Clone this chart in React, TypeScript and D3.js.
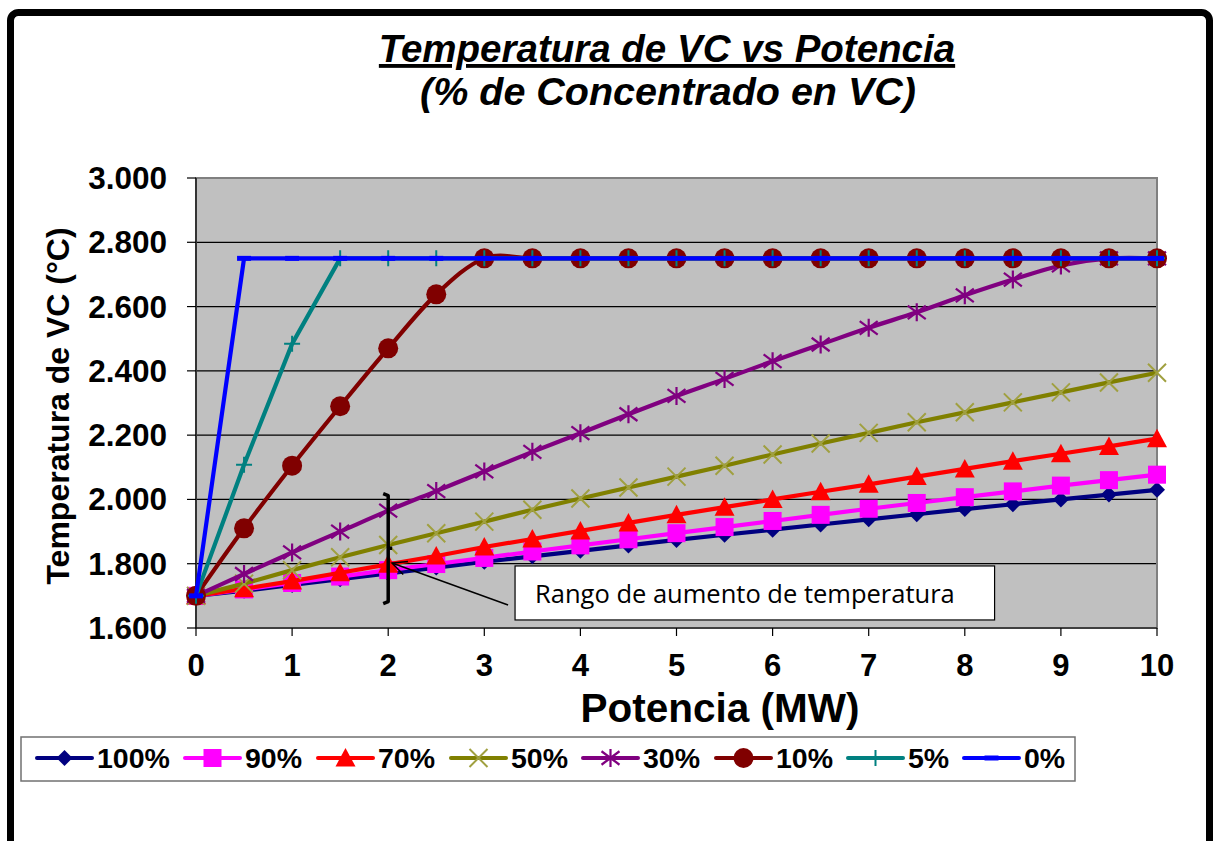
import React from "react";
import * as d3 from "d3";

const potencia = [0, 0.5, 1, 1.5, 2, 2.5, 3, 3.5, 4, 4.5, 5, 5.5, 6, 6.5, 7, 7.5, 8, 8.5, 9, 9.5, 10];
const s100 = [1700, 1716, 1734, 1752, 1770, 1788, 1806, 1823, 1840, 1857, 1874, 1890, 1906, 1922, 1938, 1954, 1970, 1985, 2000, 2015, 2030];
const s90 = [1700, 1720, 1740, 1760, 1780, 1799, 1818, 1838, 1857, 1876, 1895, 1914, 1933, 1952, 1971, 1989, 2007, 2025, 2043, 2060, 2077];
const s70 = [1700, 1722, 1746, 1772, 1798, 1824, 1852, 1877, 1902, 1927, 1952, 1976, 2000, 2024, 2047, 2071, 2095, 2119, 2142, 2165, 2189];
const s50 = [1700, 1738, 1780, 1820, 1858, 1895, 1931, 1968, 2003, 2037, 2071, 2105, 2140, 2174, 2207, 2240, 2271, 2302, 2333, 2364, 2394];
const s30 = [1700, 1768, 1835, 1900, 1965, 2026, 2087, 2148, 2206, 2265, 2322, 2375, 2430, 2482, 2534, 2582, 2635, 2684, 2728, 2750, 2750];
const s10 = [1700, 1910, 2105, 2290, 2470, 2638, 2750, 2750, 2750, 2750, 2750, 2750, 2750, 2750, 2750, 2750, 2750, 2750, 2750, 2750, 2750];
const s5 = [1700, 2108, 2484, 2750, 2750, 2750, 2750, 2750, 2750, 2750, 2750, 2750, 2750, 2750, 2750, 2750, 2750, 2750, 2750, 2750, 2750];
const s0 = [1700, 2750, 2750, 2750, 2750, 2750, 2750, 2750, 2750, 2750, 2750, 2750, 2750, 2750, 2750, 2750, 2750, 2750, 2750, 2750, 2750];

const seriesNames = ["100%", "90%", "70%", "50%", "30%", "10%", "5%", "0%"];
const seriesValues = [s100, s90, s70, s50, s30, s10, s5, s0];
const seriesColors = ["#000080", "#FF00FF", "#FF0000", "#808000", "#800080", "#800000", "#008080", "#0000FF"];
const markerColors = ["#000080", "#FF00FF", "#FF0000", "#A0A040", "#800080", "#800000", "#008080", "#0000FF"];
const seriesMarkers = ["diamond", "square", "triangle", "x", "asterisk", "circle", "plus", "dash"];
const seriesSmooth = [false, false, false, false, true, true, false, false];

const xTicks = [0, 1, 2, 3, 4, 5, 6, 7, 8, 9, 10];
const yTicks = [1600, 1800, 2000, 2200, 2400, 2600, 2800, 3000];

const titleLine1 = "Temperatura de VC vs Potencia";
const titleLine2 = "(% de Concentrado en VC)";
const xTitle = "Potencia (MW)";
const yTitle = "Temperatura de VC (°C)";
const noteText = "Rango de aumento de temperatura";

// annotation in data units
const bracket = { x: 2, top: 2018, bottom: 1676, mid: 1848 };
const arrowTip = { x: 2.04, y: 1802 };
const noteBox = { x0: 3.32, x1: 8.31, y0: 1793, y1: 1625 };

const W = 1213;
const H = 841;
const plot = { left: 196, right: 1157, top: 178, bottom: 628 };
const legendLayout = { x0: 21, x1: 1075, y0: 737, y1: 781, starts: [37, 185, 318, 451, 583, 716, 848, 964], lineLen: 55 };

const FONT = "'Liberation Sans', Arial, Helvetica, sans-serif";

const locale = d3.formatLocale({ decimal: ",", thousands: ".", grouping: [3], currency: ["", ""] });
const yFmt = locale.format(",.0f");

function Marker({ type, x, y, color }: { type: string; x: number; y: number; color: string }) {
  switch (type) {
    case "diamond": {
      const r = 8;
      return <polygon points={`${x},${y - r} ${x + r},${y} ${x},${y + r} ${x - r},${y}`} fill={color} />;
    }
    case "square": {
      const r = 9;
      return <rect x={x - r} y={y - r} width={2 * r} height={2 * r} fill={color} />;
    }
    case "triangle": {
      const r = 10;
      return <polygon points={`${x},${y - r} ${x + r},${y + r * 0.85} ${x - r},${y + r * 0.85}`} fill={color} />;
    }
    case "x": {
      const r = 9;
      return (
        <path d={`M${x - r},${y - r}L${x + r},${y + r}M${x - r},${y + r}L${x + r},${y - r}`} stroke={color} strokeWidth={2} fill="none" />
      );
    }
    case "asterisk": {
      const r = 9;
      return (
        <path
          d={`M${x - r},${y - r * 0.75}L${x + r},${y + r * 0.75}M${x - r},${y + r * 0.75}L${x + r},${y - r * 0.75}M${x},${y - r}L${x},${y + r}`}
          stroke={color}
          strokeWidth={2.2}
          fill="none"
        />
      );
    }
    case "circle":
      return <circle cx={x} cy={y} r={10} fill={color} />;
    case "plus": {
      const r = 8;
      return <path d={`M${x - r},${y}L${x + r},${y}M${x},${y - r}L${x},${y + r}`} stroke={color} strokeWidth={2} fill="none" />;
    }
    case "dash": {
      const r = 7;
      return <path d={`M${x - r},${y}L${x + r},${y}`} stroke={color} strokeWidth={5} fill="none" />;
    }
    default:
      return null;
  }
}

export default function App() {
  const x = d3.scaleLinear().domain([0, 10]).range([plot.left, plot.right]);
  const y = d3.scaleLinear().domain([1600, 3000]).range([plot.bottom, plot.top]);

  const lineLinear = d3
    .line<[number, number]>()
    .x((d) => x(d[0]))
    .y((d) => y(d[1]))
    .curve(d3.curveLinear);
  const lineSmooth = d3
    .line<[number, number]>()
    .x((d) => x(d[0]))
    .y((d) => y(d[1]))
    .curve(d3.curveCardinal.tension(0));

  const legendMidY = 758;

  const bx = x(bracket.x);
  const bt = y(bracket.top);
  const bb = y(bracket.bottom);
  const bm = y(bracket.mid);

  const tipX = x(arrowTip.x);
  const tipY = y(arrowTip.y);
  const tailX = x(noteBox.x0) - 7;
  const tailY = y(noteBox.y1) - 15;
  const ang = Math.atan2(tailY - tipY, tailX - tipX);
  const ah = 16;
  const spread = 0.45;

  return (
    <svg width={W} height={H} style={{ position: "absolute", left: 0, top: 0, background: "#fff" }} fontFamily={FONT}>
      <rect x={0} y={0} width={W} height={H} fill="#fff" />
      {/* outer frame */}
      <rect x={10.5} y={12.5} width={1199} height={960} rx={8} fill="none" stroke="#000" strokeWidth={7} />

      {/* titles */}
      <text x={667} y={62} textAnchor="middle" fontSize={38.5} fontWeight="bold" fontStyle="italic" textDecoration="underline">
        {titleLine1}
      </text>
      <text x={668} y={105} textAnchor="middle" fontSize={39.5} fontWeight="bold" fontStyle="italic">
        {titleLine2}
      </text>

      {/* plot background */}
      <rect x={plot.left} y={plot.top} width={plot.right - plot.left} height={plot.bottom - plot.top} fill="#C0C0C0" />
      {/* gridlines */}
      {yTicks.map((t) => (
        <line key={"g" + t} x1={plot.left} x2={plot.right} y1={y(t)} y2={y(t)} stroke="#000" strokeWidth={1.2} />
      ))}
      <rect
        x={plot.left}
        y={plot.top}
        width={plot.right - plot.left}
        height={plot.bottom - plot.top}
        fill="none"
        stroke="#808080"
        strokeWidth={2}
      />

      {/* axes */}
      <line x1={plot.left} x2={plot.left} y1={plot.top} y2={plot.bottom} stroke="#000" strokeWidth={1.2} />
      <line x1={plot.left} x2={plot.right} y1={plot.bottom} y2={plot.bottom} stroke="#000" strokeWidth={1.2} />
      {yTicks.map((t) => (
        <g key={"yt" + t}>
          <line x1={plot.left - 9} x2={plot.left} y1={y(t)} y2={y(t)} stroke="#000" strokeWidth={1.2} />
          <text x={plot.left - 29} y={y(t) + 11} textAnchor="end" fontSize={31.5} fontWeight="bold">
            {yFmt(t)}
          </text>
        </g>
      ))}
      {xTicks.map((t) => (
        <g key={"xt" + t}>
          <line x1={x(t)} x2={x(t)} y1={plot.bottom} y2={plot.bottom + 8} stroke="#000" strokeWidth={1.2} />
          <text x={x(t)} y={plot.bottom + 48} textAnchor="middle" fontSize={31} fontWeight="bold">
            {t}
          </text>
        </g>
      ))}

      {/* series */}
      {seriesValues.map((vals, i) => {
        const pts: [number, number][] = vals.map((v, j) => [potencia[j], v]);
        const gen = seriesSmooth[i] ? lineSmooth : lineLinear;
        return (
          <g key={seriesNames[i]}>
            <path d={gen(pts) || ""} fill="none" stroke={seriesColors[i]} strokeWidth={4.2} strokeLinejoin="round" />
            {pts.map((p, j) => (
              <Marker key={j} type={seriesMarkers[i]} x={x(p[0])} y={y(p[1])} color={markerColors[i]} />
            ))}
          </g>
        );
      })}

      {/* bracket annotation */}
      <path
        d={`M${bx - 5},${bt}L${bx},${bt + 2}L${bx},${bb - 2}L${bx - 5},${bb}M${bx},${bm}L${bx + 4},${bm}`}
        fill="none"
        stroke="#000"
        strokeWidth={3.5}
        strokeLinejoin="round"
      />
      <line x1={tailX} y1={tailY} x2={tipX} y2={tipY} stroke="#000" strokeWidth={1.5} />
      <path
        d={`M${tipX + ah * Math.cos(ang - spread)},${tipY + ah * Math.sin(ang - spread)}L${tipX},${tipY}L${tipX + ah * Math.cos(ang + spread)},${tipY + ah * Math.sin(ang + spread)}`}
        fill="none"
        stroke="#000"
        strokeWidth={1.5}
      />
      <rect
        x={x(noteBox.x0)}
        y={y(noteBox.y0)}
        width={x(noteBox.x1) - x(noteBox.x0)}
        height={y(noteBox.y1) - y(noteBox.y0)}
        fill="#fff"
        stroke="#000"
        strokeWidth={1.2}
      />
      <text x={x(noteBox.x0) + 20} y={y(noteBox.y0) + 37} fontSize={25.5} fontFamily="'Open Sans', 'Noto Sans', sans-serif">
        {noteText}
      </text>

      {/* axis titles */}
      <text x={720} y={722} textAnchor="middle" fontSize={40.5} fontWeight="bold">
        {xTitle}
      </text>
      <text transform={`translate(69, ${(plot.top + plot.bottom) / 2 + 3}) rotate(-90)`} textAnchor="middle" fontSize={32} fontWeight="bold">
        {yTitle}
      </text>

      {/* legend */}
      <rect
        x={legendLayout.x0}
        y={legendLayout.y0}
        width={legendLayout.x1 - legendLayout.x0}
        height={legendLayout.y1 - legendLayout.y0}
        fill="#fff"
        stroke="#707070"
        strokeWidth={1.5}
      />
      {seriesNames.map((name, i) => {
        const sx = legendLayout.starts[i];
        const ex = sx + legendLayout.lineLen;
        return (
          <g key={"lg" + name}>
            <line x1={sx} x2={ex} y1={legendMidY} y2={legendMidY} stroke={seriesColors[i]} strokeWidth={4} strokeLinecap="round" />
            <Marker type={seriesMarkers[i]} x={(sx + ex) / 2} y={legendMidY} color={markerColors[i]} />
            <text x={ex + 5} y={legendMidY + 10} fontSize={28.5} fontWeight="bold">
              {name}
            </text>
          </g>
        );
      })}
    </svg>
  );
}
